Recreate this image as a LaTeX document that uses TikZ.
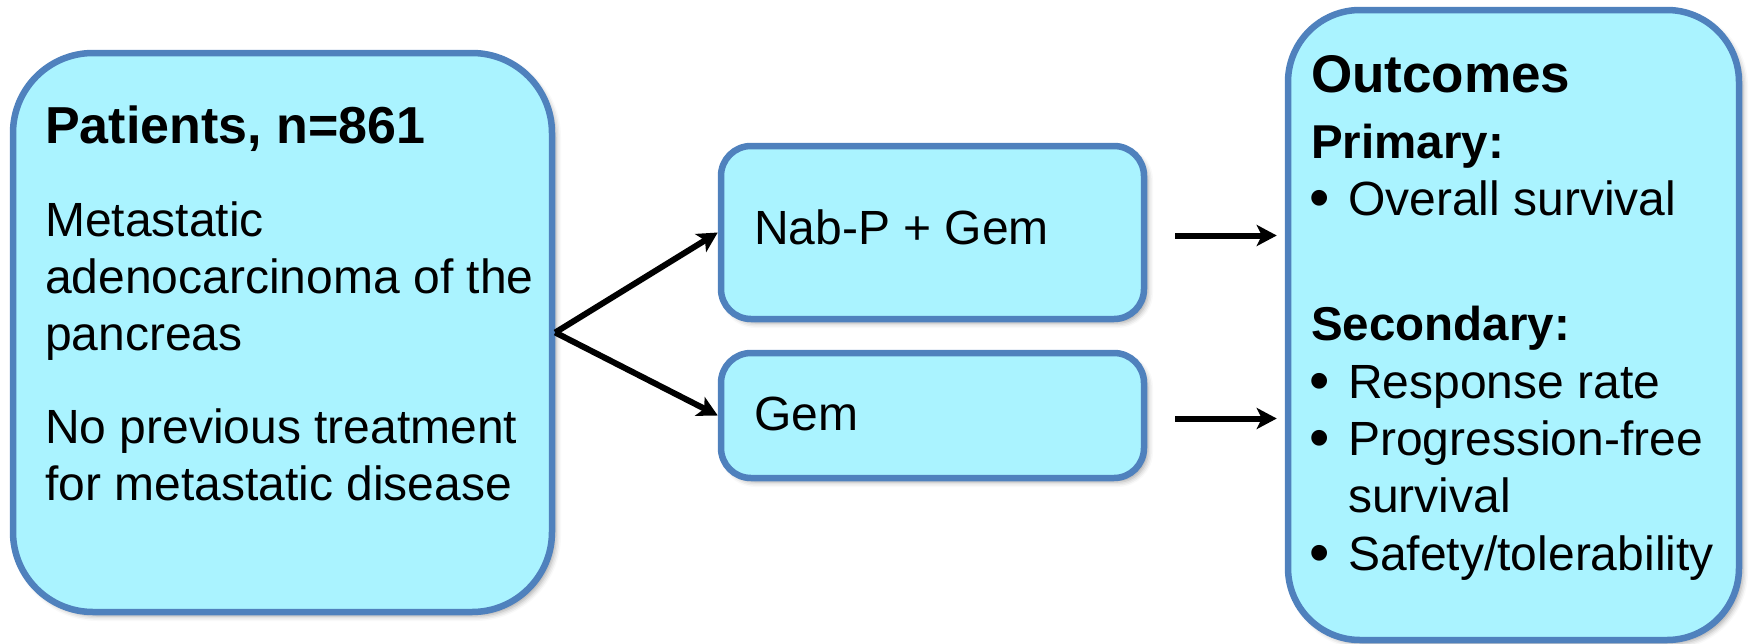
\documentclass[tikz,border=0pt]{standalone}
\usepackage{fontspec}
\setmainfont{Liberation Sans}
\usetikzlibrary{arrows.meta,shadows.blur}
\definecolor{boxfill}{RGB}{170,243,255}
\definecolor{boxline}{RGB}{79,129,189}
\begin{document}
\begin{tikzpicture}[x=1pt,y=-1pt,
  box/.style={draw=boxline, fill=boxfill, line width=6.5pt, rectangle, inner sep=0pt,
    blur shadow={shadow xshift=4pt, shadow yshift=-4pt, shadow blur radius=5pt, shadow opacity=35}},
  txt/.style={anchor=base west, inner sep=0pt, font=\fontsize{48}{57}\selectfont},
  bul/.style={anchor=base west, inner sep=0pt, font=\fontsize{58}{57}\selectfont},
  ttl/.style={anchor=base west, inner sep=0pt, font=\fontsize{52}{60}\selectfont\bfseries},
  sub/.style={anchor=base west, inner sep=0pt, font=\fontsize{47.5}{57}\selectfont\bfseries},
  arr/.style={line width=6pt, -{Stealth[length=20pt,width=21pt,inset=5pt]}}
]
\useasboundingbox (0,0) rectangle (1754,643);

% boxes
\node[box, rounded corners=80pt, minimum width=539pt, minimum height=559pt] (left) at (282.5,332.5) {};
\node[box, rounded corners=30pt, minimum width=423pt, minimum height=173pt] (nab) at (932.5,232.5) {};
\node[box, rounded corners=30pt, minimum width=423pt, minimum height=125pt] (gem) at (932.5,415.5) {};
\node[box, rounded corners=72pt, minimum width=451pt, minimum height=630pt] (out) at (1513.5,325) {};

% left box text
\node[ttl] (pt) at (45,143) {Patients, n=861};
\node[txt] (l1) at (45,236) {Metastatic};
\node[txt] (l2) at (45,293) {adenocarcinoma of the};
\node[txt] (l3) at (45,350) {pancreas};
\node[txt] (l4) at (45,443) {No previous treatment};
\node[txt] (l5) at (45,500) {for metastatic disease};

% arm texts
\node[txt] (nabt) at (754,244) {Nab-P + Gem};
\node[txt] (gemt) at (754,430) {Gem};

% outcomes text
\node[anchor=base west, inner sep=0pt, font=\fontsize{53}{60}\selectfont\bfseries] (ot) at (1311,92) {Outcomes};
\node[sub] (pr) at (1311,158) {Primary:};
\node[bul] (b1) at (1309,217) {•};
\node[txt] (o1) at (1348,215) {Overall survival};
\node[sub] (se) at (1311,340) {Secondary:};
\node[bul] (b2) at (1309,400) {•};
\node[txt] (o2) at (1348,398) {Response rate};
\node[bul] (b3) at (1309,457) {•};
\node[txt] (o3) at (1348,455) {Progression-free};
\node[txt] (o4) at (1348,512) {survival};
\node[bul] (b4) at (1309,572) {•};
\node[txt] (o5) at (1348,570) {Safety/tolerability};

% connectors
\draw[arr] (left.east) -- (nab.west);
\draw[arr] (left.east) -- (gem.west);
\draw[arr] ([xshift=28pt,yshift=-3pt]nab.east) -- ([xshift=-8pt,yshift=-3pt]nab.east -| out.west);
\draw[arr] ([xshift=28pt,yshift=-3pt]gem.east) -- ([xshift=-8pt,yshift=-3pt]gem.east -| out.west);
\end{tikzpicture}
\end{document}
